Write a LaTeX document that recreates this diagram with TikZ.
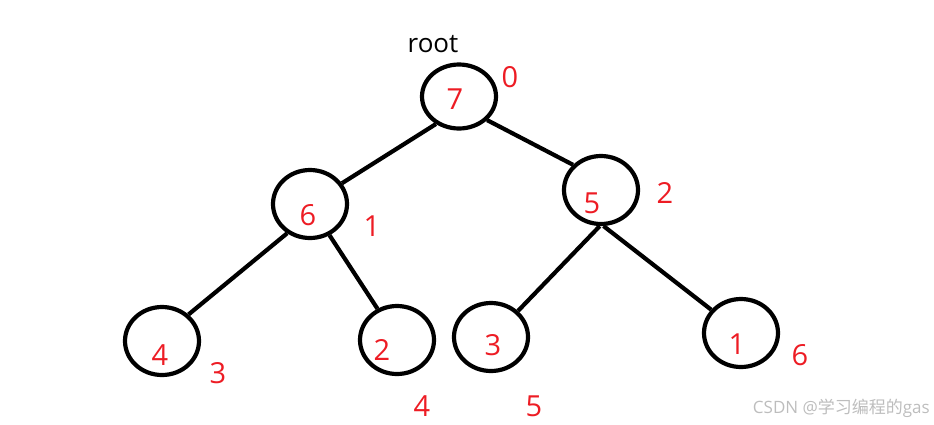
\documentclass[tikz,border=0pt]{standalone}
\usepackage{fontspec}
\setmainfont{Open Sans}
\newfontfamily\cjkfont{Noto Sans CJK SC}
\usepackage{tikz}
\usetikzlibrary{shapes.geometric, positioning}
\definecolor{paintred}{HTML}{ED1C24}
\definecolor{markgray}{HTML}{BDBDBD}
\tikzset{
  heapnode/.style={ellipse, draw=black, line width=4.2pt, inner sep=0pt,
                   minimum width=74pt, minimum height=68pt},
  edge/.style={line width=4.2pt, color=black},
  key/.style={font=\fontsize{29}{29}\selectfont, text=paintred, inner sep=0pt},
  idx/.style={key},
}
\begin{document}
\begin{tikzpicture}[x=1pt, y=-1pt]
  \useasboundingbox (0,0) rectangle (934,424);
  % tree nodes
  \node[heapnode, minimum height=64pt] (root) at (459,96.5) {};
  \node[heapnode] (n6) at (310,204) {};
  \node[heapnode] (n5) at (601,190) {};
  \node[heapnode] (n4) at (162,341) {};
  \node[heapnode] (n2) at (397,340) {};
  \node[heapnode] (n3) at (491,337) {};
  \node[heapnode] (n1) at (741,333) {};
  % keys
  \node[key] (k7) at (455,99)  {7};
  \node[key] (k6) at (308,215) {6};
  \node[key] (k5) at (592,203) {5};
  \node[key] (k4) at (160,355) {4};
  \node[key] (k2) at (382,350) {2};
  \node[key] (k3) at (493,345) {3};
  \node[key] (k1) at (737,344) {1};
  % array indices
  \node[idx] (i0) at (510,77)  {0};
  \node[idx] (i1) at (372,226) {1};
  \node[idx] (i2) at (665,193) {2};
  \node[idx] (i3) at (218,373) {3};
  \node[idx] (i4) at (422,406) {4};
  \node[idx] (i5) at (534,406) {5};
  \node[idx] (i6) at (800,355) {6};
  \node[font=\fontsize{26}{26}\selectfont, inner sep=0pt] (lbl) at (433,44) {root};
  % edges
  \draw[edge] (root.-130) -- (n6.33);
  \draw[edge] (root.-40)  -- (n5.138);
  \draw[edge] (n6.-128)   -- (n4.45);
  \draw[edge] (n6.-58)    -- (n2.122);
  \draw[edge] (n5.-92)    -- (n3.44);
  \draw[edge] (n5.-86)    -- (n1.142);
  % watermark
  \node[anchor=east, text=markgray, font=\fontsize{17}{17}\selectfont, inner sep=0pt]
    (mark) at (930,408) {CSDN @{\cjkfont 学习编程的}gas};
\end{tikzpicture}
\end{document}
